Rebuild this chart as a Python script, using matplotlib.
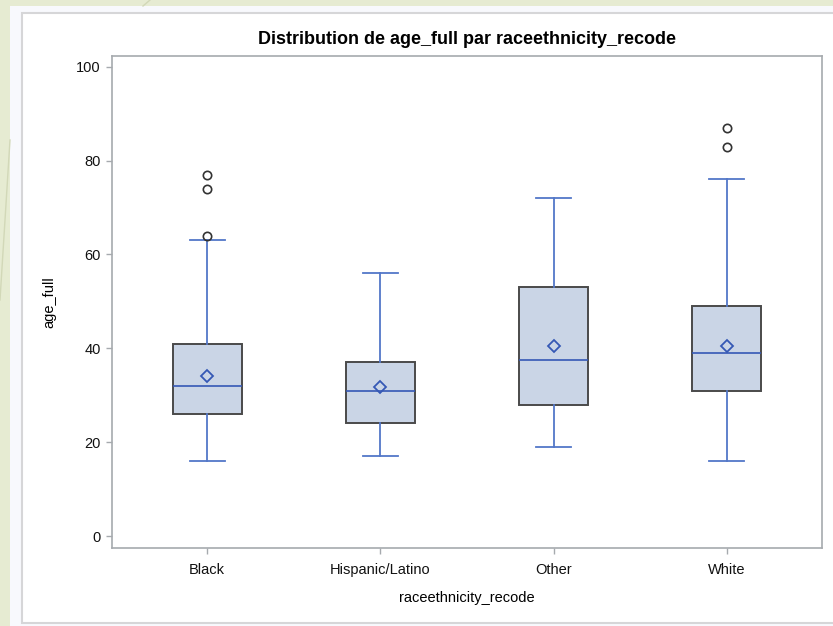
import numpy as np
import matplotlib.pyplot as plt
from matplotlib.patches import Rectangle
from matplotlib.lines import Line2D

plt.rcParams['font.family'] = ['Liberation Sans', 'DejaVu Sans']

# values
groups = ['Black', 'Hispanic/Latino', 'Other', 'White']
q1 = [26, 24, 28, 31]
median = [32, 31, 37.5, 39]
q3 = [41, 37, 53, 49]
whis_lo = [16, 17, 19, 16]
whis_hi = [63, 56, 72, 76]
means = [34.1, 31.8, 40.6, 40.5]
outliers = [[64, 74, 77], [], [], [83, 87]]

box_fill = '#cad5e6'
box_edge = '#4a4a4a'
line_blue = '#5377c8'
mean_blue = '#3558b5'
axis_gray = '#a6aaae'

fig = plt.figure(figsize=(8.33, 6.26), dpi=100)
fig.patch.set_facecolor('#e6ebd2')

# slide panel / frame behind the chart
W, H = 833, 626
fig.patches.append(Rectangle((10 / W, 0), 1, 1 - 6 / H, transform=fig.transFigure,
                             facecolor='#f8f9fd', edgecolor='none', zorder=-3))
fig.patches.append(Rectangle((21.5 / W, (H - 623) / H), 1.2, (623 - 12.5) / H,
                             transform=fig.transFigure, facecolor='white',
                             edgecolor='#d6d6d8', linewidth=1.5, zorder=-2))
fig.lines.append(Line2D([0, 10 / W], [1 - 300 / H, 1 - 140 / H],
                        transform=fig.transFigure, color='#d2d8b8', lw=1))
fig.lines.append(Line2D([143 / W, 150 / W], [1 - 6 / H, 1.0],
                        transform=fig.transFigure, color='#d2d8b8', lw=1))

ax = fig.add_axes([112 / W, 1 - 548 / H, (822 - 112) / W, (548 - 56) / H])

stats = []
for i, g in enumerate(groups):
    stats.append({'label': g, 'q1': q1[i], 'med': median[i], 'q3': q3[i],
                  'whislo': whis_lo[i], 'whishi': whis_hi[i],
                  'mean': means[i], 'fliers': outliers[i]})

ax.bxp(stats, positions=np.arange(1, len(groups) + 1), widths=0.4,
       capwidths=0.2, showmeans=True, patch_artist=True,
       boxprops=dict(facecolor=box_fill, edgecolor=box_edge, linewidth=1.4),
       medianprops=dict(color=mean_blue, linewidth=1.2),
       whiskerprops=dict(color=line_blue, linewidth=1.3),
       capprops=dict(color=line_blue, linewidth=1.3),
       meanprops=dict(marker='D', markersize=6.5, markerfacecolor='none',
                      markeredgecolor=mean_blue, markeredgewidth=1.3),
       flierprops=dict(marker='o', markersize=6, markerfacecolor='none',
                       markeredgecolor='#333333', markeredgewidth=1.2))

ax.set_xlim(0.45, 4.55)
ax.set_ylim(-2.55, 102.3)
ax.set_yticks([0, 20, 40, 60, 80, 100])

for s in ax.spines.values():
    s.set_color(axis_gray)
    s.set_linewidth(1.2)
ax.tick_params(axis='both', length=4, width=1, color=axis_gray,
               labelsize=10.5, labelcolor='#111111', pad=4)
ax.tick_params(axis='x', pad=7)

ax.set_title('Distribution de age_full par raceethnicity_recode',
             fontsize=13, fontweight='bold', pad=9)
ax.set_xlabel('raceethnicity_recode', fontsize=10.5, labelpad=10)
ax.set_ylabel('age_full', fontsize=10.5, labelpad=14)

plt.savefig('out.png', dpi=100, facecolor=fig.get_facecolor())
